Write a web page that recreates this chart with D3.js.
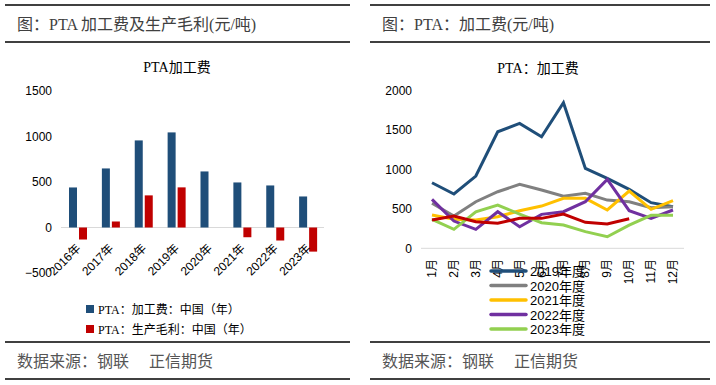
<!DOCTYPE html>
<html>
<head>
<meta charset="utf-8">
<script src="https://cdn.jsdelivr.net/npm/d3@7"></script>
<style>
  body { margin: 0; background: #fff; }
  svg { display: block; }
  text { font-family: "Liberation Sans", "Noto Sans CJK SC", sans-serif; }
  .cjk { font-family: "Liberation Serif", "Noto Sans CJK SC", serif; }
</style>
</head>
<body>
<svg id="chart" width="716" height="385"></svg>
<script>
// Left panel: yearly processing fee and gross margin
const years = ["2016年", "2017年", "2018年", "2019年", "2020年", "2021年", "2022年", "2023年"];
const feeValues = [440, 649, 957, 1045, 616, 495, 462, 341];
const marginValues = [-132, 66, 353, 441, 0, -107, -143, -265];
const barTicks = [-500, 0, 500, 1000, 1500];

// Right panel: monthly processing fee by year
const months = ["1月", "2月", "3月", "4月", "5月", "6月", "7月", "8月", "9月", "10月", "11月", "12月"];
const fee2019 = [832, 689, 917, 1479, 1585, 1416, 1847, 1014, 888, 748, 579, 528];
const fee2020 = [571, 410, 591, 718, 812, 740, 660, 697, 612, 591, 515, 528];
const fee2021 = [422, 368, 359, 401, 477, 536, 634, 634, 486, 727, 495, 604];
const fee2022 = [621, 346, 241, 464, 274, 431, 464, 591, 875, 477, 380, 486];
const fee2023 = [368, 241, 464, 549, 435, 325, 295, 211, 147, 295, 418, 418];
const fee2024 = [359, 410, 338, 317, 380, 380, 435, 330, 308, 376];
const lineTicks = [0, 500, 1000, 1500, 2000];

const svg = d3.select("#chart");

// Header/footer frame with the black rules
function drawFrame(x0, x1, title) {
    [5, 42, 342, 379].forEach(y => {
        svg.append("line")
            .attr("x1", x0).attr("x2", x1)
            .attr("y1", y).attr("y2", y)
            .attr("stroke", "#000").attr("stroke-width", 1.3);
    });
    svg.append("text")
        .attr("class", "cjk")
        .attr("x", x0 + 12).attr("y", 30)
        .attr("font-size", 16).attr("fill", "#404040")
        .text(title);
    svg.append("text")
        .attr("class", "cjk")
        .attr("x", x0 + 12).attr("y", 367)
        .attr("font-size", 16).attr("fill", "#555")
        .attr("xml:space", "preserve")
        .text("数据来源：钢联     正信期货");
}

drawFrame(5, 350, "图：PTA 加工费及生产毛利(元/吨)");
drawFrame(370, 710, "图：PTA：加工费(元/吨)");

// ---- Bar chart ----
const xBar = d3.scaleBand().domain(years).range([61, 324]);
const yBar = d3.scaleLinear().domain([-500, 1500]).range([273, 91]);

svg.append("text")
    .attr("class", "cjk")
    .attr("x", 177).attr("y", 72)
    .attr("text-anchor", "middle")
    .attr("font-size", 14).attr("fill", "#000")
    .text("PTA加工费");

const yAxisBar = svg.append("g")
    .attr("transform", "translate(52,0)")
    .call(d3.axisLeft(yBar).tickValues(barTicks).tickFormat(d3.format("d"))
        .tickSize(0).tickPadding(0));
yAxisBar.select(".domain").remove();
yAxisBar.selectAll("text").attr("font-size", 12).attr("fill", "#000")
    .attr("font-family", "Liberation Sans");

svg.append("line")
    .attr("x1", 61).attr("x2", 324)
    .attr("y1", yBar(0)).attr("y2", yBar(0))
    .attr("stroke", "#d9d9d9").attr("stroke-width", 1);

const barW = 8;
svg.append("g").selectAll("rect")
    .data(feeValues)
    .join("rect")
    .attr("x", (d, i) => xBar(years[i]) + 8)
    .attr("width", barW)
    .attr("y", d => yBar(Math.max(d, 0)))
    .attr("height", d => Math.abs(yBar(d) - yBar(0)))
    .attr("fill", "#1f4e79");

svg.append("g").selectAll("rect")
    .data(marginValues)
    .join("rect")
    .attr("x", (d, i) => xBar(years[i]) + 18)
    .attr("width", barW)
    .attr("y", d => yBar(Math.max(d, 0)))
    .attr("height", d => Math.abs(yBar(d) - yBar(0)))
    .attr("fill", "#c00000");

svg.append("g").selectAll("text")
    .data(years)
    .join("text")
    .attr("transform", d => `translate(${xBar(d) + xBar.bandwidth() / 2 + 4},${249}) rotate(-45)`)
    .attr("text-anchor", "end")
    .attr("font-size", 12)
    .attr("fill", "#000")
    .text(d => d);

// Bar legend
const barLegend = [
    { label: "PTA：加工费：中国（年）", color: "#1f4e79" },
    { label: "PTA：生产毛利：中国（年）", color: "#c00000" }
];
barLegend.forEach((d, i) => {
    const y = 309 + i * 20;
    svg.append("rect")
        .attr("x", 86).attr("y", y - 4)
        .attr("width", 8).attr("height", 8)
        .attr("fill", d.color);
    svg.append("text")
        .attr("class", "cjk")
        .attr("x", 98).attr("y", y + 4.5)
        .attr("font-size", 12).attr("fill", "#000")
        .text(d.label);
});

// ---- Line chart ----
const xLine = d3.scalePoint().domain(months).range([432, 673]);
const yLine = d3.scaleLinear().domain([0, 2000]).range([248.3, 90.7]);

svg.append("text")
    .attr("class", "cjk")
    .attr("x", 538).attr("y", 73)
    .attr("text-anchor", "middle")
    .attr("font-size", 14).attr("fill", "#000")
    .text("PTA：加工费");

const yAxisLine = svg.append("g")
    .attr("transform", "translate(412,0)")
    .call(d3.axisLeft(yLine).tickValues(lineTicks).tickFormat(d3.format("d"))
        .tickSize(0).tickPadding(0));
yAxisLine.select(".domain").remove();
yAxisLine.selectAll("text").attr("font-size", 12).attr("fill", "#000")
    .attr("font-family", "Liberation Sans");

svg.append("line")
    .attr("x1", 421).attr("x2", 684)
    .attr("y1", yLine(0)).attr("y2", yLine(0))
    .attr("stroke", "#d9d9d9").attr("stroke-width", 1);

svg.append("g").selectAll("text")
    .data(months)
    .join("text")
    .attr("transform", d => `translate(${xLine(d) + 4},${259}) rotate(-90)`)
    .attr("text-anchor", "end")
    .attr("font-size", 12)
    .attr("fill", "#000")
    .text(d => d);

const lineSeries = [
    { name: "2019年度", values: fee2019, color: "#1f4e79", legend: true },
    { name: "2020年度", values: fee2020, color: "#808080", legend: true },
    { name: "2021年度", values: fee2021, color: "#ffc000", legend: true },
    { name: "2022年度", values: fee2022, color: "#7030a0", legend: true },
    { name: "2023年度", values: fee2023, color: "#92d050", legend: true },
    { name: "2024年度", values: fee2024, color: "#c00000", legend: false }
];

const line = d3.line()
    .x((d, i) => xLine(months[i]))
    .y(d => yLine(d));

// Draw in the order the reference stacks them (2019 at bottom, 2024 on top)
svg.append("g").selectAll("path")
    .data(lineSeries)
    .join("path")
    .attr("d", d => line(d.values))
    .attr("fill", "none")
    .attr("stroke", d => d.color)
    .attr("stroke-width", 3)
    .attr("stroke-linejoin", "miter");

// Line legend (overlaps the month labels like the original)
lineSeries.filter(d => d.legend).forEach((d, i) => {
    const y = 271 + i * 14.5;
    svg.append("line")
        .attr("x1", 491).attr("x2", 526)
        .attr("y1", y).attr("y2", y)
        .attr("stroke", d.color).attr("stroke-width", 3.5)
        .attr("stroke-linecap", "round");
    svg.append("text")
        .attr("x", 530).attr("y", y + 5)
        .attr("font-size", 13).attr("fill", "#000")
        .text(d.name);
});
</script>
</body>
</html>
